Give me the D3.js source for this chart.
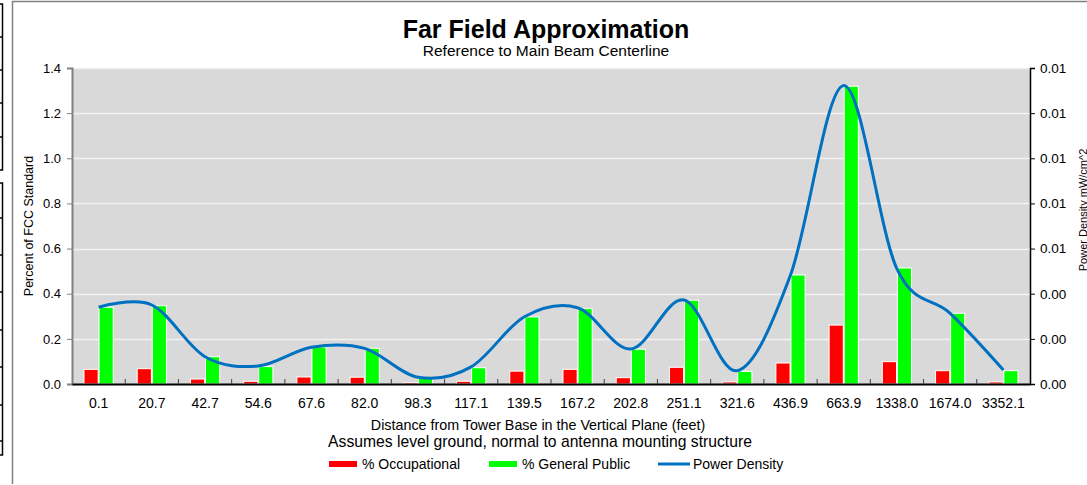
<!DOCTYPE html>
<html>
<head>
<meta charset="utf-8">
<script src="https://cdn.jsdelivr.net/npm/d3@7"></script>
<style>
  html, body { margin: 0; padding: 0; background: #fff; }
  svg { display: block; font-family: "Liberation Sans", Arial, sans-serif; }
</style>
</head>
<body>
<svg id="chart" width="1087" height="485"></svg>
<script>
const categories = ["0.1","20.7","42.7","54.6","67.6","82.0","98.3","117.1","139.5","167.2","202.8","251.1","321.6","436.9","663.9","1338.0","1674.0","3352.1"];
const occupational = [0.065,0.068,0.022,0.012,0.031,0.030,0.006,0.012,0.057,0.065,0.028,0.074,0.009,0.093,0.261,0.099,0.059,0.009];
const generalPublic = [0.340,0.347,0.121,0.077,0.164,0.158,0.026,0.072,0.297,0.334,0.154,0.371,0.056,0.483,1.319,0.514,0.313,0.059];
const powerDensity = [0.00340,0.00350,0.00121,0.00080,0.00163,0.00158,0.00030,0.00076,0.00298,0.00338,0.00155,0.00372,0.00059,0.00483,0.01322,0.00510,0.00313,0.00062];
const leftTicks = [0,0.2,0.4,0.6,0.8,1.0,1.2,1.4];
const rightTicks = [0,0.002,0.004,0.006,0.008,0.010,0.012,0.014];
const seriesNames = ["% Occupational","% General Public","Power Density"];
const seriesColors = ["#ff0000","#00ff00","#0070c0"];

const svg = d3.select("#chart");
const W = 1087, H = 485;
const plot = {left: 72, right: 1030, top: 68, bottom: 384};

svg.append("rect").attr("width", W).attr("height", H).attr("fill", "#fff");

// fragments of neighbouring table at left edge
const frag = svg.append("g").attr("stroke", "#000").attr("stroke-width", 1.5).attr("fill", "none");
[[4, 170, [37, 70, 103, 137]], [183, 455, [218, 255, 292, 330, 367, 405, 441]]].forEach(([t, b, ls]) => {
  frag.append("path").attr("d", `M-5,${t}H2.5V${b}H-5`);
  ls.forEach(l => frag.append("line").attr("x1", -5).attr("x2", 2.5).attr("y1", l).attr("y2", l));
});

// chart area border
svg.append("path").attr("d", `M12.5,484V1.5H1087`).attr("stroke", "#808080").attr("stroke-width", 1.5).attr("fill", "none");

const x = d3.scaleBand().domain(categories).range([plot.left, plot.right]).padding(0);
const x1 = d3.scaleBand().domain(["occ","gp"]).range([12, x.bandwidth() - 12]).paddingInner(0.06);
const y = d3.scaleLinear().domain([0, 1.4]).range([plot.bottom, plot.top]);
const y2 = d3.scaleLinear().domain([0, 0.014]).range([plot.bottom, plot.top]);

// plot background
svg.append("rect").attr("x", plot.left).attr("y", plot.top)
  .attr("width", plot.right - plot.left).attr("height", plot.bottom - plot.top).attr("fill", "#d9d9d9");

// gridlines
svg.append("g").selectAll("line").data(leftTicks.slice(1)).join("line")
  .attr("x1", plot.left).attr("x2", plot.right)
  .attr("y1", d => Math.round(y(d)) + 0.5).attr("y2", d => Math.round(y(d)) + 0.5)
  .attr("stroke", "#f2f2f2").attr("stroke-width", 1.5);

// bars
const groups = svg.append("g").selectAll("g").data(categories).join("g")
  .attr("transform", d => `translate(${x(d)},0)`);
groups.append("rect")
  .attr("x", x1("occ")).attr("width", x1.bandwidth())
  .attr("y", (d, i) => y(occupational[i])).attr("height", (d, i) => y(0) - y(occupational[i]))
  .attr("fill", seriesColors[0]).attr("stroke", "#fff").attr("stroke-width", 1);
groups.append("rect")
  .attr("x", x1("gp")).attr("width", x1.bandwidth())
  .attr("y", (d, i) => y(generalPublic[i])).attr("height", (d, i) => y(0) - y(generalPublic[i]))
  .attr("fill", seriesColors[1]).attr("stroke", "#fff").attr("stroke-width", 1);

// power density line
const line = d3.line()
  .x((d, i) => x(categories[i]) + x.bandwidth() / 2)
  .y(d => y2(d))
  .curve(d3.curveCardinal.tension(0));
svg.append("path").datum(powerDensity).attr("d", line)
  .attr("fill", "none").attr("stroke", seriesColors[2]).attr("stroke-width", 3);

// left axis
const yAxis = svg.append("g").attr("transform", `translate(${plot.left},0)`)
  .call(d3.axisLeft(y).tickValues(leftTicks).tickFormat(d3.format(".1f")).tickSize(5).tickPadding(6));
yAxis.select(".domain").attr("stroke", "#808080").attr("stroke-width", 2);
yAxis.selectAll(".tick line").attr("stroke", "#808080");
yAxis.selectAll("text").attr("font-size", 13).attr("fill", "#000").attr("font-family", "Liberation Sans, Arial, sans-serif");

// right axis
const yAxis2 = svg.append("g").attr("transform", `translate(${plot.right},0)`)
  .call(d3.axisRight(y2).tickValues(rightTicks).tickFormat(d3.format(".2f")).tickSize(5).tickPadding(5));
yAxis2.select(".domain").attr("stroke", "#000").attr("stroke-width", 1.5);
yAxis2.selectAll(".tick line").attr("stroke", "#000");
yAxis2.selectAll("text").attr("font-size", 13.5).attr("fill", "#000").attr("font-family", "Liberation Sans, Arial, sans-serif");

// bottom axis: boundary ticks pointing up
const xAxis = svg.append("g").attr("transform", `translate(0,${plot.bottom})`)
  .call(d3.axisBottom(x).tickSize(0).tickPadding(14));
xAxis.select(".domain").attr("stroke", "#000").attr("stroke-width", 2);
xAxis.selectAll("text").attr("font-size", 14).attr("fill", "#000").attr("font-family", "Liberation Sans, Arial, sans-serif");
svg.append("g").selectAll("line").data(categories.slice(1)).join("line")
  .attr("x1", d => x(d)).attr("x2", d => x(d))
  .attr("y1", plot.bottom).attr("y2", plot.bottom - 5)
  .attr("stroke", "#404040").attr("stroke-width", 1);

// titles
svg.append("text").attr("x", 546).attr("y", 38).attr("text-anchor", "middle")
  .attr("font-size", 25).attr("font-weight", "bold").text("Far Field Approximation");
svg.append("text").attr("x", 546).attr("y", 56).attr("text-anchor", "middle")
  .attr("font-size", 15.5).text("Reference to Main Beam Centerline");
svg.append("text").attr("transform", "translate(33,226) rotate(-90)").attr("text-anchor", "middle")
  .attr("font-size", 12.5).text("Percent of FCC Standard");
svg.append("text").attr("transform", "translate(1087,210) rotate(-90)").attr("text-anchor", "middle")
  .attr("font-size", 11).text("Power Density mW/cm^2");
svg.append("text").attr("x", 538).attr("y", 430).attr("text-anchor", "middle")
  .attr("font-size", 14.3).text("Distance from Tower Base in the Vertical Plane (feet)");
svg.append("text").attr("x", 540).attr("y", 447).attr("text-anchor", "middle")
  .attr("font-size", 15.7).text("Assumes level ground, normal to antenna mounting structure");

// legend
const legendX = [329, 489, 658];
const leg = svg.append("g").selectAll("g").data(seriesNames).join("g")
  .attr("transform", (d, i) => `translate(${legendX[i]},464)`);
leg.append("line").attr("x1", 0).attr("x2", (d, i) => i === 2 ? 32 : 28)
  .attr("stroke", (d, i) => seriesColors[i]).attr("stroke-width", (d, i) => i === 2 ? 3 : 6);
leg.append("text").attr("x", (d, i) => i === 2 ? 35 : 33).attr("y", 5)
  .attr("font-size", 14).text(d => d);
</script>
</body>
</html>
